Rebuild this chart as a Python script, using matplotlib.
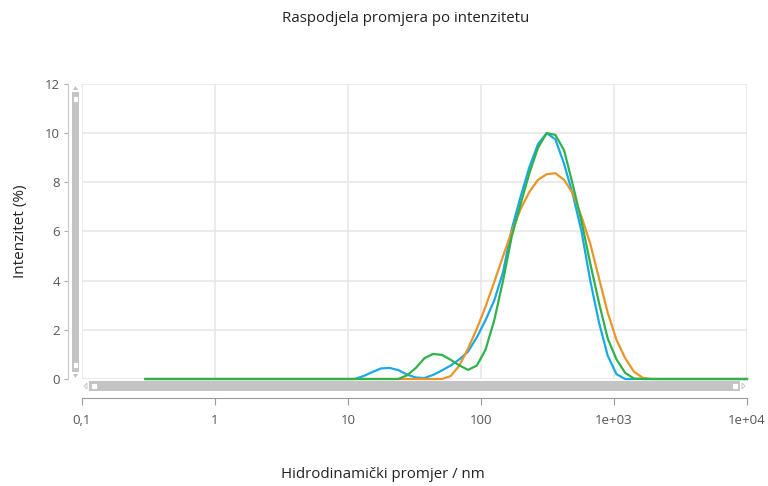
import numpy as np
import matplotlib
matplotlib.use("Agg")
import matplotlib.pyplot as plt
import matplotlib.patches as mp

plt.rcParams['font.family'] = ['Open Sans', 'DejaVu Sans']

# size classes (nm), 70 log-spaced bins
size_nm = [0.300, 0.349, 0.406, 0.472, 0.549, 0.638, 0.742, 0.863, 1.004, 1.168,
           1.358, 1.579, 1.837, 2.136, 2.484, 2.889, 3.360, 3.907, 4.544, 5.285,
           6.146, 7.148, 8.313, 9.668, 11.24, 13.08, 15.21, 17.69, 20.57, 23.92,
           27.82, 32.36, 37.63, 43.76, 50.90, 59.19, 68.84, 80.06, 93.11, 108.3,
           125.9, 146.5, 170.3, 198.1, 230.4, 268.0, 311.6, 362.4, 421.5, 490.2,
           570.1, 663.0, 771.1, 896.8, 1043, 1213, 1411, 1641, 1908, 2219,
           2581, 3002, 3491, 4060, 4722, 5492, 6387, 7428, 8639, 10000]

# intensity (%) per size class, three measurements
int_blue = [0.0] * 24 + [0.0, 0.12, 0.28, 0.43, 0.45, 0.36, 0.18, 0.06, 0.04, 0.17,
                         0.35, 0.55, 0.8, 1.12, 1.7, 2.4, 3.2, 4.35, 6.1, 7.4,
                         8.6, 9.55, 10.0, 9.75, 8.75, 7.5, 6.0, 4.0, 2.3, 0.95,
                         0.2, 0.0] + [0.0] * 14
int_orange = [0.0] * 34 + [0.0, 0.12, 0.55, 1.25, 2.05, 2.95, 3.95, 5.0, 6.0, 6.9,
                           7.6, 8.1, 8.33, 8.37, 8.1, 7.55, 6.6, 5.5, 4.1, 2.7,
                           1.6, 0.85, 0.3, 0.05, 0.0] + [0.0] * 11
int_green = [0.0] * 29 + [0.0, 0.15, 0.45, 0.85, 1.02, 0.98, 0.78, 0.55, 0.37, 0.55,
                          1.2, 2.4, 4.0, 5.8, 7.1, 8.35, 9.4, 10.0, 9.93, 9.3,
                          7.9, 6.4, 4.7, 3.1, 1.65, 0.8, 0.25, 0.02, 0.0] + [0.0] * 12

x_ticks = [0.1, 1, 10, 100, 1000, 10000]
x_labels = ["0,1", "1", "10", "100", "1e+03", "1e+04"]
y_ticks = [0, 2, 4, 6, 8, 10, 12]

BLUE, ORANGE, GREEN = "#1ba8e8", "#e8962a", "#2fb24a"
TXT = "#555555"

W, H = 768, 486
def fx(x): return x / W
def fy(y): return 1 - y / H

fig = plt.figure(figsize=(W / 100, H / 100), dpi=100)
ax = fig.add_axes([fx(82), fy(379), (747 - 82) / W, (379 - 84) / H])

ax.plot(size_nm, int_blue, color=BLUE, lw=1.6, clip_on=False, zorder=3)
ax.plot(size_nm, int_orange, color=ORANGE, lw=1.6, clip_on=False, zorder=3)
ax.plot(size_nm, int_green, color=GREEN, lw=1.6, clip_on=False, zorder=4)

ax.set_xscale("log")
ax.set_xlim(0.1, 10000); ax.set_ylim(0, 12)
ax.set_xticks(x_ticks); ax.set_xticklabels(x_labels)
ax.xaxis.set_minor_locator(matplotlib.ticker.NullLocator())
ax.set_yticks(y_ticks)
ax.grid(True, color="#e8e8e8", lw=1.2, zorder=0)
ax.set_axisbelow(True)

for s in ("top", "right"):
    ax.spines[s].set_visible(False)
ax.spines["left"].set_position(("outward", 10))
ax.spines["left"].set_color("#c8c8c8")
ax.spines["bottom"].set_position(("outward", 14))
ax.spines["bottom"].set_color("#9a9a9a")
ax.tick_params(axis="y", length=3, color="#b0b0b0", labelcolor=TXT, labelsize=9.5, pad=3)
ax.tick_params(axis="x", length=5, color="#9a9a9a", labelcolor=TXT, labelsize=9.5, pad=6)

# vertical scrollbar
fig.add_artist(mp.Rectangle((fx(72), fy(372)), 7 / W, 280 / H, transform=fig.transFigure,
                            fc="#c4c4c4", ec="none"))
for yy in (96, 362):
    fig.add_artist(mp.Rectangle((fx(73), fy(yy + 6)), 5 / W, 6 / H, transform=fig.transFigure,
                                fc="white", ec="#bbbbbb", lw=0.5))
fig.add_artist(mp.Polygon([(fx(73), fy(90)), (fx(78), fy(90)), (fx(75.5), fy(86))],
                          transform=fig.transFigure, fc="#c0c0c0", ec="none"))
fig.add_artist(mp.Polygon([(fx(73), fy(374)), (fx(78), fy(374)), (fx(75.5), fy(378))],
                          transform=fig.transFigure, fc="#c0c0c0", ec="none"))

# horizontal scrollbar
fig.add_artist(mp.Rectangle((fx(89), fy(391)), 651 / W, 10 / H, transform=fig.transFigure,
                            fc="#c4c4c4", ec="none"))
for xx in (91, 732):
    fig.add_artist(mp.Rectangle((fx(xx), fy(389)), 6 / W, 6 / H, transform=fig.transFigure,
                                fc="white", ec="#bbbbbb", lw=0.5))
fig.add_artist(mp.Polygon([(fx(87), fy(383)), (fx(87), fy(389)), (fx(84), fy(386))],
                          transform=fig.transFigure, fc="none", ec="#c0c0c0", lw=0.6))
fig.add_artist(mp.Polygon([(fx(742), fy(383)), (fx(742), fy(389)), (fx(745), fy(386))],
                          transform=fig.transFigure, fc="none", ec="#c0c0c0", lw=0.6))

fig.text(fx(406), fy(18), "Raspodjela promjera po intenzitetu", ha="center", va="center",
         fontsize=10.8, color="#222222")
fig.text(fx(383), fy(474), "Hidrodinamički promjer / nm", ha="center", va="center",
         fontsize=10.8, color="#222222")
fig.text(fx(21), fy(231), "Intenzitet (%)", ha="center", va="center", rotation=90,
         fontsize=11, color="#222222")

fig.savefig("out.png", dpi=100)
plt.close(fig)
